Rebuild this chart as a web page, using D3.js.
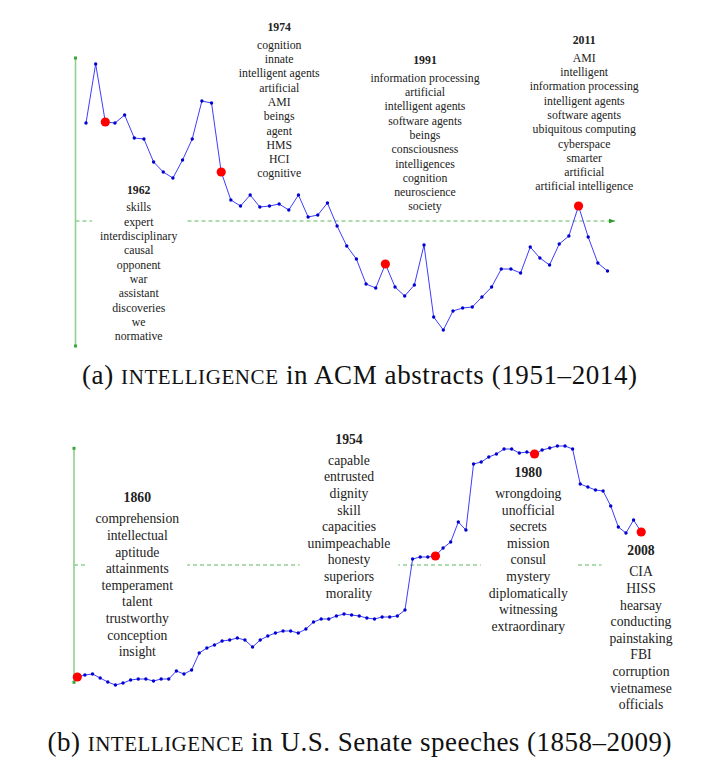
<!DOCTYPE html>
<html><head><meta charset="utf-8">
<script src="https://cdn.jsdelivr.net/npm/d3@7"></script>
<style>body{margin:0;background:#fff}svg{display:block}</style>
</head><body>
<svg id="c" width="709" height="782"></svg>
<script>
// ---------- DATA ----------
const acmYears = d3.range(1960, 2015);
const acmValues = [0.98, 1.57, 0.99, 0.98, 1.06, 0.83, 0.82, 0.59, 0.49, 0.43,
  0.61, 0.82, 1.20, 1.18, 0.49, 0.21, 0.15, 0.26, 0.14, 0.15,
  0.17, 0.11, 0.26, 0.04, 0.06, 0.18, -0.05, -0.25, -0.38, -0.63,
  -0.67, -0.43, -0.66, -0.75, -0.64, -0.24, -0.96, -1.09, -0.90, -0.87,
  -0.86, -0.76, -0.66, -0.48, -0.48, -0.52, -0.26, -0.37, -0.44, -0.23,
  -0.15, 0.15, -0.16, -0.42, -0.50];
const acmLabelYears = [1962, 1974, 1991, 2011];
const acmLabelWords = [
  ["skills", "expert", "interdisciplinary", "causal", "opponent", "war", "assistant", "discoveries", "we", "normative"],
  ["cognition", "innate", "intelligent agents", "artificial", "AMI", "beings", "agent", "HMS", "HCI", "cognitive"],
  ["information processing", "artificial", "intelligent agents", "software agents", "beings", "consciousness", "intelligences", "cognition", "neuroscience", "society"],
  ["AMI", "intelligent", "information processing", "intelligent agents", "software agents", "ubiquitous computing", "cyberspace", "smarter", "artificial", "artificial intelligence"]
];
const senateYears = d3.range(1860, 2009, 2);
const senateValues = [-1.12, -1.10, -1.09, -1.13, -1.17, -1.20, -1.18, -1.15, -1.14, -1.14,
  -1.16, -1.14, -1.14, -1.06, -1.09, -1.05, -0.88, -0.83, -0.80, -0.76,
  -0.75, -0.73, -0.75, -0.82, -0.75, -0.71, -0.68, -0.66, -0.66, -0.68,
  -0.64, -0.57, -0.54, -0.54, -0.51, -0.49, -0.50, -0.51, -0.53, -0.54,
  -0.52, -0.52, -0.51, -0.45, 0.06, 0.08, 0.08, 0.09, 0.17, 0.23,
  0.43, 0.35, 1.01, 1.03, 1.08, 1.11, 1.16, 1.16, 1.12, 1.13,
  1.11, 1.15, 1.17, 1.19, 1.19, 1.16, 0.81, 0.78, 0.75, 0.74,
  0.59, 0.38, 0.32, 0.45, 0.33];
const senateLabelYears = [1860, 1954, 1980, 2008];
const senateLabelWords = [
  ["comprehension", "intellectual", "aptitude", "attainments", "temperament", "talent", "trustworthy", "conception", "insight"],
  ["capable", "entrusted", "dignity", "skill", "capacities", "unimpeachable", "honesty", "superiors", "morality"],
  ["wrongdoing", "unofficial", "secrets", "mission", "consul", "mystery", "diplomatically", "witnessing", "extraordinary"],
  ["CIA", "HISS", "hearsay", "conducting", "painstaking", "FBI", "corruption", "vietnamese", "officials"]
];
const captionA = ["(a) ", "INTELLIGENCE", " in ACM abstracts (1951\u20132014)"];
const captionB = ["(b) ", "INTELLIGENCE", " in U.S. Senate speeches (1858\u20132009)"];

// ---------- LAYOUT ----------
const panels = [
  { years: acmYears, values: acmValues, labelYears: acmLabelYears, labelWords: acmLabelWords, caption: captionA,
    xRange: [86, 607.5], xDomain: [1960, 2014], yRange: [346, 58], yDomain: [-1.25, 1.63],
    axisX: 75.5, arrowEnd: 615, font: 11.8, lineH: 14.3, headGap: 17.6,
    labelPos: [[138.7, 189.7], [279.2, 27], [425, 60], [584.2, 40]],
    capY: 384, capW: 555 },
  { years: senateYears, values: senateValues, labelYears: senateLabelYears, labelWords: senateLabelWords, caption: captionB,
    xRange: [77.3, 641.2], xDomain: [1860, 2008], yRange: [682.3, 448.3], yDomain: [-1.173, 1.167],
    axisX: 74, arrowEnd: 616.7, font: 13.7, lineH: 16.6, headGap: 21,
    labelPos: [[137.3, 497.7], [349, 439], [528.3, 472.3], [641, 550.7]],
    capY: 751, capW: 624 }
];

const svg = d3.select("#c");
const defs = svg.append("defs");
defs.append("marker").attr("id", "arr").attr("viewBox", "0 0 10 10")
  .attr("refX", 9).attr("refY", 5).attr("markerWidth", 7).attr("markerHeight", 7)
  .attr("markerUnits", "userSpaceOnUse").attr("orient", "auto")
  .append("path").attr("d", "M0,1.5 L10,5 L0,8.5 z").attr("fill", "#2e9a2e");

const serif = "'Liberation Serif','Times New Roman',Times,serif";

panels.forEach(p => {
  const x = d3.scaleLinear().domain(p.xDomain).range(p.xRange);
  const y = d3.scaleLinear().domain(p.yDomain).range(p.yRange);
  const g = svg.append("g");

  // baseline (dashed, with arrow)
  g.append("line").attr("x1", p.axisX).attr("x2", p.arrowEnd)
    .attr("y1", y(0)).attr("y2", y(0))
    .attr("stroke", "#5cb85c").attr("stroke-width", 1).attr("stroke-dasharray", "4,3")
    .attr("marker-end", "url(#arr)");
  // vertical axis
  g.append("line").attr("x1", p.axisX).attr("x2", p.axisX)
    .attr("y1", y(p.yDomain[0])).attr("y2", y(p.yDomain[1]))
    .attr("stroke", "#8fd08f").attr("stroke-width", 1.6);
  [p.yDomain[0], p.yDomain[1]].forEach(v => {
    g.append("rect").attr("x", p.axisX - 1.5).attr("y", y(v) - 1.5)
      .attr("width", 3).attr("height", 3).attr("fill", "#3aa63a");
  });

  // label blocks
  p.labelYears.forEach((yr, i) => {
    const [cx, cy] = p.labelPos[i];
    const lg = g.append("g");
    const bg = lg.append("rect").attr("fill", "#fff");
    const t = lg.append("text").attr("font-family", serif).attr("font-size", p.font)
      .attr("text-anchor", "middle").attr("fill", "#222");
    t.append("tspan").attr("x", cx).attr("y", cy).attr("dy", "0.35em")
      .attr("font-weight", "bold").text(yr);
    p.labelWords[i].forEach((w, k) => {
      t.append("tspan").attr("x", cx).attr("y", cy + p.headGap + k * p.lineH)
        .attr("dy", "0.35em").text(w);
    });
    const bb = t.node().getBBox();
    bg.attr("x", bb.x - 8).attr("y", bb.y - 2).attr("width", bb.width + 16).attr("height", bb.height + 4);
  });

  // series
  const pts = p.years.map((yr, i) => [yr, p.values[i]]);
  g.append("path").datum(pts)
    .attr("d", d3.line().x(d => x(d[0])).y(d => y(d[1])))
    .attr("fill", "none").attr("stroke", "#3d3dff").attr("stroke-width", 1);
  g.selectAll("circle.pt").data(pts).join("circle").attr("class", "pt")
    .attr("cx", d => x(d[0])).attr("cy", d => y(d[1])).attr("r", 1.7).attr("fill", "#0000d0");
  const reds = p.labelYears.map(yr => [yr, p.values[p.years.indexOf(yr)]]);
  g.selectAll("circle.red").data(reds).join("circle").attr("class", "red")
    .attr("cx", d => x(d[0])).attr("cy", d => y(d[1])).attr("r", 4.6).attr("fill", "#ff0000");

  // caption
  const cap = svg.append("text").attr("x", 359.5).attr("y", p.capY)
    .attr("text-anchor", "middle").attr("font-family", serif).attr("font-size", 27)
    .attr("fill", "#111").attr("textLength", p.capW).attr("lengthAdjust", "spacing");
  cap.append("tspan").text(p.caption[0]);
  cap.append("tspan").attr("font-size", 21).text(p.caption[1]);
  cap.append("tspan").text(p.caption[2]);
});
</script>
</body></html>
